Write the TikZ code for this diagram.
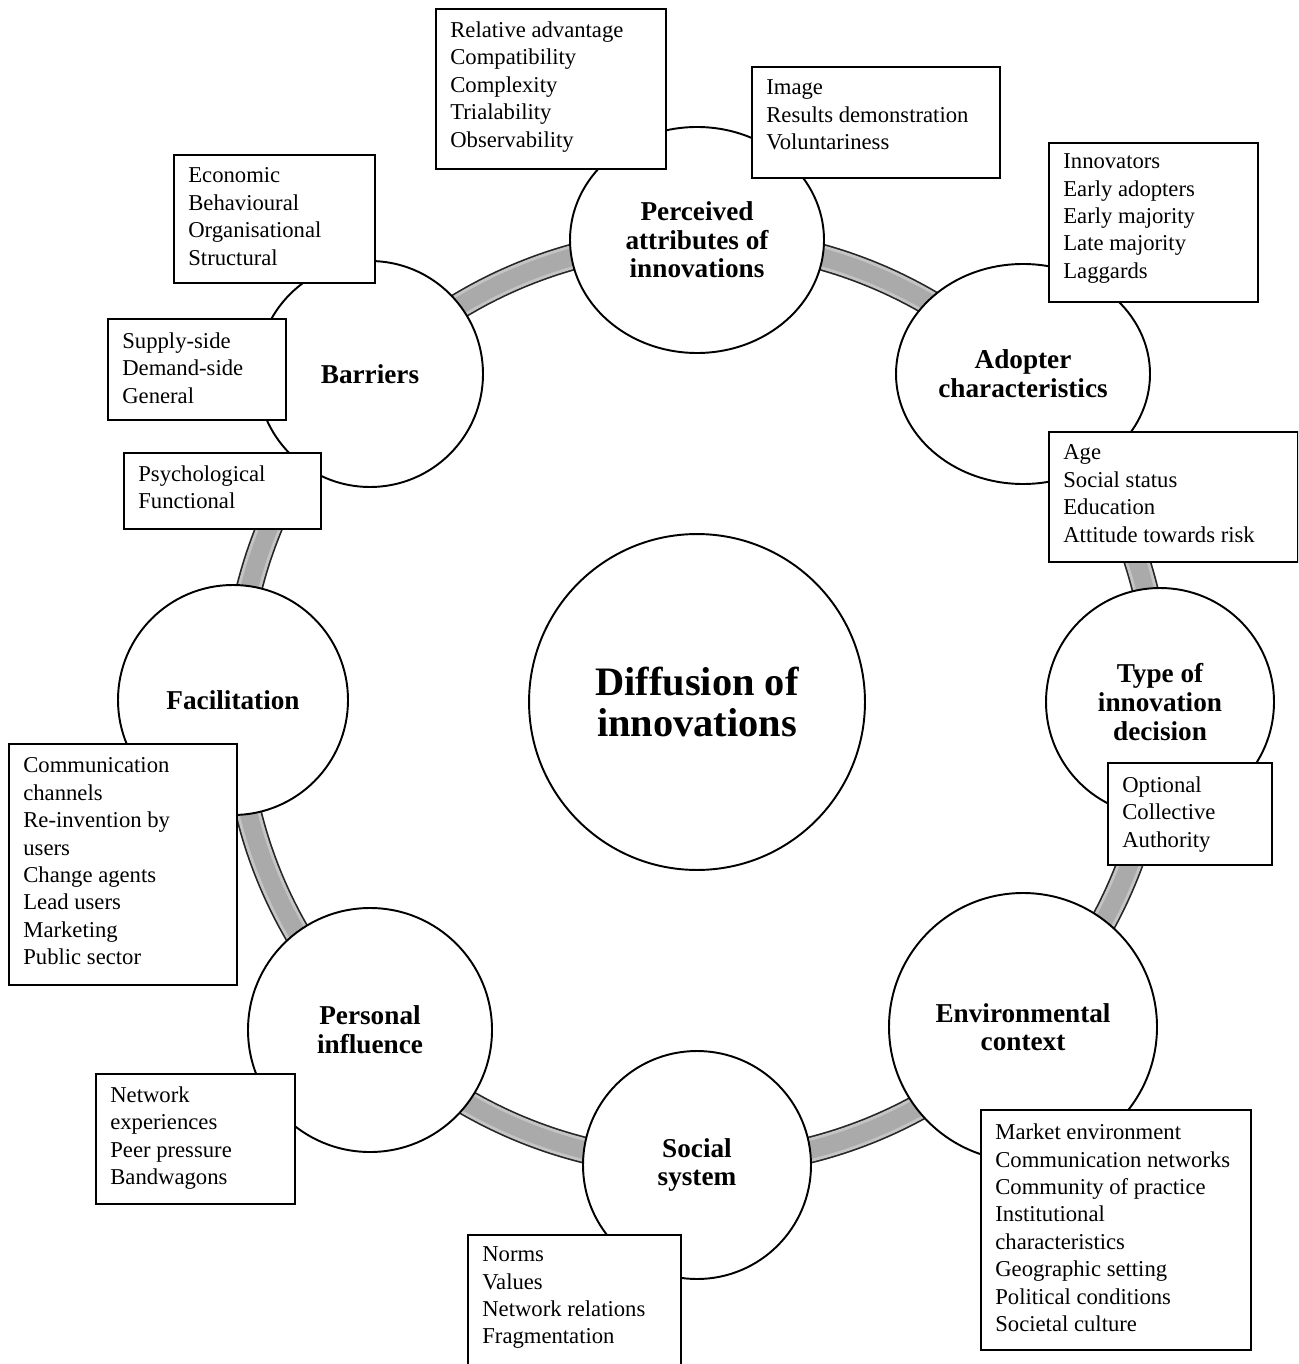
\documentclass[tikz,border=0pt]{standalone}
\usepackage{fontspec}
\setmainfont{Liberation Serif}
\usetikzlibrary{shapes.geometric}
\begin{document}
\begin{tikzpicture}[x=0.02cm,y=-0.02cm,
  ringline/.style={line width=15.3pt,draw=black!85},
  ringedge/.style={line width=13.4pt,draw=bandlight},
  ringfill/.style={line width=10pt,draw=bandgray},
  topic/.style={ellipse,draw=black,line width=1.1pt,fill=white,inner sep=0pt,align=center,
    font=\fontsize{15.5}{16.3}\selectfont\bfseries},
  hub/.style={circle,draw=black,line width=1.1pt,fill=white,inner sep=0pt,align=center,
    font=\fontsize{23}{23.2}\selectfont\bfseries},
  boxframe/.style={rectangle,draw=black,line width=1.1pt,fill=white,inner sep=0pt},
  boxtext/.style={inner sep=0pt,align=left,font=\fontsize{12.9}{15.6}\selectfont}]
\definecolor{bandgray}{RGB}{170,170,170}
\definecolor{bandlight}{RGB}{196,196,196}

\useasboundingbox (0,0) rectangle (1298,1364);
\clip (0,0) rectangle (1298,1364);
\fill[white] (0,0) rectangle (1298,1364);

% name, x1, y1, x2, y2, top of first text line, lines
\newcommand\listbox[7]{%
  \node[boxframe,anchor=north west,minimum width={(#4-#2)*0.02cm},minimum height={(#5-#3)*0.02cm}] (#1) at (#2,#3) {};
  \node[boxtext,anchor=north west] (#1-t) at (#2+15,#6) {#7};
}
% name, x, y, horizontal and vertical radius (px), label
\newcommand\topicat[6]{%
  \node[topic,minimum width={2*#4*0.02cm},minimum height={2*#5*0.02cm}] (#1) at (#2,#3) {#6};
}

% the ring that links the topics
\coordinate (ctr) at (697,702);
\draw[ringline] (ctr) circle (9.24cm);
\draw[ringedge] (ctr) circle (9.24cm);
\draw[ringfill] (ctr) circle (9.24cm);

% hub and topics
\node[hub,minimum size=6.72cm] (hub) at (697,702) {Diffusion of\\innovations};
\topicat{attr}{697}{240}{127}{113}{Perceived\\attributes of\\innovations}
\topicat{adopt}{1023}{374}{127}{110}{Adopter\\characteristics}
\topicat{decision}{1160}{702}{114}{114}{Type of\\innovation\\decision}
\topicat{env}{1023}{1027}{134}{134}{Environmental\\context}
\topicat{social}{697}{1165}{114}{114}{Social\\system}
\topicat{personal}{370}{1030}{122}{122}{Personal\\influence}
\topicat{facil}{233}{700}{115}{115}{Facilitation}
\topicat{barriers}{370}{374}{113}{113}{Barriers}

% lists of factors
\listbox{attrA}{435}{8}{665}{168}{21.5}{Relative advantage\\Compatibility\\Complexity\\Trialability\\Observability}
\listbox{attrB}{751}{66}{999}{177}{79.5}{Image\\Results demonstration\\Voluntariness}
\listbox{adoptA}{1048}{142}{1257}{301}{153.5}{Innovators\\Early adopters\\Early majority\\Late majority\\Laggards}
\listbox{adoptB}{1048}{431}{1297}{561}{444.5}{Age\\Social status\\Education\\Attitude towards risk}
\listbox{decA}{1107}{762}{1271}{864}{776.5}{Optional\\Collective\\Authority}
\listbox{envA}{980}{1109}{1250}{1349}{1123.5}{Market environment\\Communication networks\\Community of practice\\Institutional\\characteristics\\Geographic setting\\Political conditions\\Societal culture}
\listbox{socA}{467}{1234}{680}{1380}{1246.5}{Norms\\Values\\Network relations\\Fragmentation}
\listbox{persA}{95}{1073}{294}{1203}{1086.5}{Network\\experiences\\Peer pressure\\Bandwagons}
\listbox{facA}{8}{743}{236}{984}{757.5}{Communication\\channels\\Re-invention by\\users\\Change agents\\Lead users\\Marketing\\Public sector}
\listbox{barA}{173}{154}{374}{282}{167.5}{Economic\\Behavioural\\Organisational\\Structural}
\listbox{barB}{107}{318}{285}{419}{332.5}{Supply-side\\Demand-side\\General}
\listbox{barC}{123}{452}{320}{528}{465.5}{Psychological\\Functional}
\end{tikzpicture}
\end{document}
